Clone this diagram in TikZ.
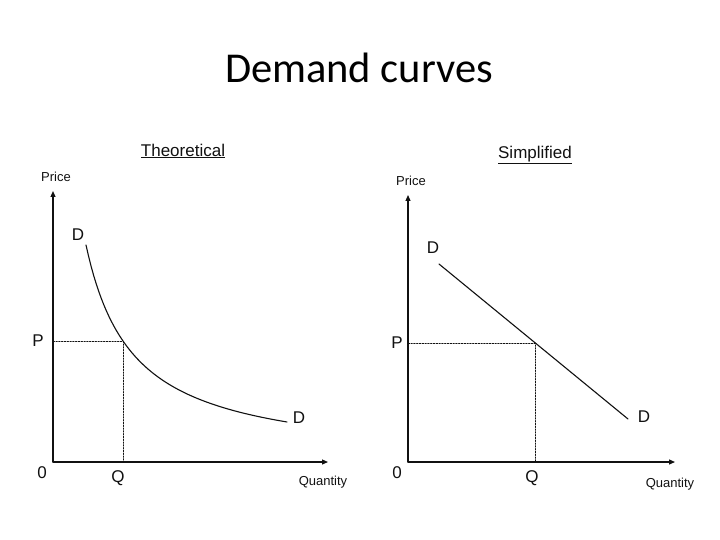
\documentclass[tikz,border=0pt]{standalone}
\usepackage{fontspec}
\setmainfont{Liberation Sans}
\newfontfamily\titlefont{Carlito}
\usepackage{xcolor}
\usepackage{tikz}
\usetikzlibrary{arrows.meta,positioning,calc}
\definecolor{ink}{HTML}{111111}
\tikzset{
    every picture/.style={line cap=round,line join=round},
    axisarrow/.style={-{Triangle[length=6pt,width=5pt]},draw=ink,line width=1.2pt},
    guideline/.style={draw=ink,line width=0.6pt,dash pattern=on 1.6pt off 1.2pt},
    demandline/.style={draw=ink,line width=1.1pt},
    axislabel/.style={text=ink,inner sep=0pt,font=\fontsize{13}{15}\selectfont},
    marklabel/.style={text=ink,inner sep=0pt,font=\fontsize{17}{20}\selectfont},
    paneltitle/.style={text=ink,inner sep=0pt,font=\fontsize{17}{20}\selectfont}
}

\begin{document}
\begin{tikzpicture}[x=1pt,y=-1pt]
  \useasboundingbox (0,0) rectangle (720,540);
  \node[text=black,font=\titlefont\fontsize{42.5}{48}\selectfont] (title) at (359,68) {Demand curves};

  % axes and their labels, one panel each
  \foreach \p/\ox/\ytop/\xend/\dy in {th/53/191/328/0,si/408/195/675/2} {
    \coordinate (\p o) at (\ox,462);
    \coordinate (\p y) at (\ox,\ytop);
    \coordinate (\p x) at (\xend,462);
    \draw[axisarrow] (\p o) -- (\p y);
    \draw[axisarrow] (\p o) -- (\p x);
    \node[axislabel] (\p price) at ($(\p y)+(3,-14)$) {Price};
    \node[axislabel] (\p qty) at ($(\p x)+(-5,20+\dy)$) {Quantity};
    \node[marklabel] (\p zero) at ($(\p o)+(-11,11)$) {0};
  }

  % theoretical: rectangular hyperbola
  \node[paneltitle] (thtitle) at (183,151) {\underline{Theoretical}};
  \draw[demandline] plot[domain=86:287,samples=80] (\x,{463.6-10332/(\x-38.74)});
  \coordinate (thpq) at (123,341);
  \draw[guideline] (thpq -| tho) -- (thpq) -- (thpq |- tho);
  \node[marklabel] (thDa) at (78,235) {D};
  \node[marklabel] (thDb) at (299,418) {D};
  \node[marklabel] (thP) at (38,341) {P};
  \node[marklabel] (thQ) at (118,478) {Q};

  % simplified: straight line
  \node[paneltitle] (sititle) at (535,155) {\underline{Simplified}};
  \coordinate (sistart) at (439,264);
  \coordinate (siend) at (628,419);
  \draw[demandline] (sistart) -- (siend);
  \coordinate (sipq) at (535,343);
  \draw[guideline] (sipq -| sio) -- (sipq) -- (sipq |- sio);
  \node[marklabel] (siDa) at (433,248) {D};
  \node[marklabel] (siDb) at (644,417) {D};
  \node[marklabel] (siP) at (397,343) {P};
  \node[marklabel] (siQ) at (532,478) {Q};
\end{tikzpicture}
\end{document}
